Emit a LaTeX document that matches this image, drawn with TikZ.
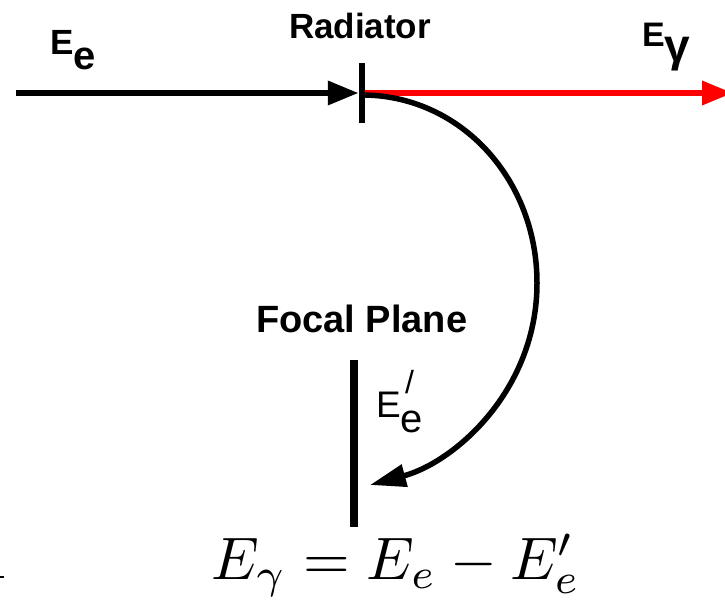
\documentclass[tikz,border=0pt]{standalone}
\usepackage{fontspec}
\setmainfont{Liberation Sans}
\usetikzlibrary{arrows.meta}
\begin{document}
\begin{tikzpicture}[x=1pt,y=-1pt,
  beam/.style={line width=6.5pt},
  cbeam/.style={line width=5.5pt},
  bigtip/.style={-{Triangle[length=31pt,width=23pt]}},
  curvetip/.style={-{Triangle[length=36pt,width=22pt]}},
  plate/.style={fill=black,draw=none,inner sep=0pt,outer sep=0pt},
  lab/.style={inner sep=0pt,outer sep=0pt,anchor=base west}]
\useasboundingbox (0,0) rectangle (725,604);
% geometry
\coordinate (src) at (16,93);
\coordinate (out) at (733,93);
\coordinate (hit) at (370,485);
\node[plate,minimum width=6.5pt,minimum height=60pt] (rad) at (362,93) {};
\node[plate,minimum width=8pt,minimum height=167pt] (fp) at (354,443.5) {};
% beams
\draw[beam,red,bigtip] (rad.east) -- (out);
\draw[beam,bigtip] (src) -- (rad.west);
\draw[cbeam,curvetip] ([yshift=-2pt]rad.east) .. controls (462,97) and (537,180) .. (537,283)
   .. controls (537,390) and (455,462) .. (hit);
% labels
\node[lab] (lEe) at (50,55) {\fontsize{35}{35}\selectfont\bfseries E\raisebox{-15pt}{\fontsize{40}{40}\selectfont e}};
\node[lab] (lrad) at (289,39) {\fontsize{35}{35}\selectfont\bfseries Radiator};
\node[lab] (lEg) at (642,47) {\fontsize{34}{34}\selectfont\bfseries E\raisebox{-15pt}{\fontsize{46}{46}\selectfont γ}};
\node[lab] (lfp) at (256,332) {\fontsize{38}{38}\selectfont\bfseries Focal Plane};
\node[lab] (lEp) at (376,417) {\fontsize{37}{37}\selectfont E\raisebox{-15pt}{\fontsize{40}{40}\selectfont e}};
\node[lab] (lpr) at (405,393) {\fontsize{32}{32}\selectfont /};
\node[inner sep=0pt,anchor=base] (eq) at (396,579) {\scalebox{6.0}{$E_\gamma = E_e - E'_e$}};
\draw[line width=1.5pt] (0,577) -- (4,577);
\end{tikzpicture}
\end{document}
